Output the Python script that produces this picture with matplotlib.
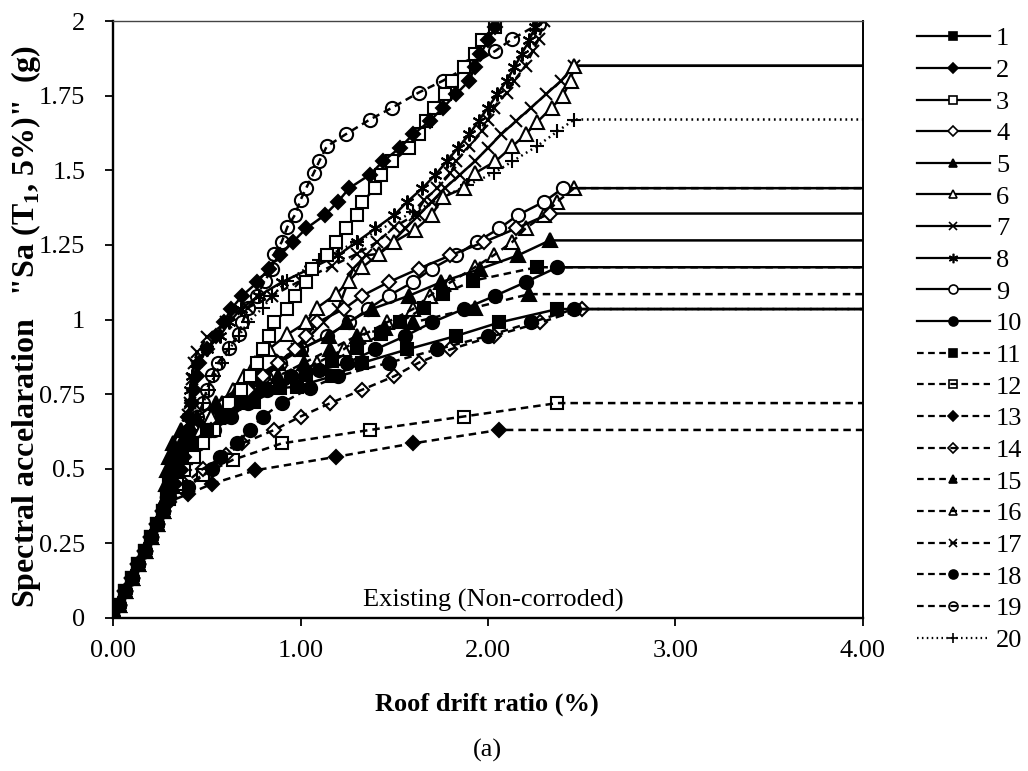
import matplotlib
matplotlib.use("Agg")
import matplotlib.pyplot as plt
from matplotlib.lines import Line2D

plt.rcParams['font.family'] = ['Liberation Serif', 'DejaVu Serif']
plt.rcParams['mathtext.fontset'] = 'custom'
plt.rcParams['mathtext.rm'] = 'Liberation Serif'
plt.rcParams['mathtext.bf'] = 'Liberation Serif:bold'

# ---- data: roof drift ratio (%) and Sa(T1,5%) (g) per record ----
elastic_x = [0.00, 0.03, 0.065, 0.10, 0.135, 0.17, 0.20, 0.235, 0.267]
elastic_y = [0.00, 0.045, 0.09, 0.135, 0.18, 0.225, 0.27, 0.315, 0.36]

r1_x = [0.29, 0.30, 0.32, 0.36, 0.42, 0.50, 0.58, 0.68, 0.80, 0.98, 1.17, 1.33, 1.57, 1.83, 2.06, 2.37, 4.0]
r1_y = [0.405, 0.45, 0.495, 0.54, 0.585, 0.63, 0.675, 0.72, 0.765, 0.775, 0.81, 0.855, 0.90, 0.945, 0.99, 1.035, 1.035]

r2_x = [0.30, 0.33, 0.36, 0.38, 0.39, 0.40, 0.40, 0.42, 0.43, 0.45, 0.46, 0.50, 0.55, 0.59, 0.63, 0.69, 0.77, 0.83, 0.89, 0.96, 1.03, 1.13, 1.20, 1.26, 1.37, 1.44, 1.53, 1.60, 1.69, 1.76, 1.83, 1.90, 1.93, 1.96, 2.00, 2.04, 2.08]
r2_y = [0.405, 0.45, 0.495, 0.54, 0.585, 0.63, 0.675, 0.72, 0.765, 0.81, 0.855, 0.90, 0.945, 0.99, 1.035, 1.08, 1.125, 1.17, 1.215, 1.26, 1.305, 1.35, 1.395, 1.44, 1.485, 1.53, 1.575, 1.62, 1.665, 1.71, 1.755, 1.80, 1.845, 1.89, 1.935, 1.98, 2.025]

r3_x = [0.30, 0.34, 0.38, 0.43, 0.48, 0.54, 0.58, 0.62, 0.68, 0.73, 0.77, 0.80, 0.83, 0.86, 0.93, 0.97, 1.03, 1.06, 1.14, 1.19, 1.24, 1.30, 1.33, 1.40, 1.43, 1.49, 1.58, 1.63, 1.67, 1.71, 1.77, 1.81, 1.87, 1.93, 1.97, 2.04, 2.10]
r3_y = [0.405, 0.45, 0.495, 0.54, 0.585, 0.63, 0.675, 0.72, 0.765, 0.81, 0.855, 0.90, 0.945, 0.99, 1.035, 1.08, 1.125, 1.17, 1.215, 1.26, 1.305, 1.35, 1.395, 1.44, 1.485, 1.53, 1.575, 1.62, 1.665, 1.71, 1.755, 1.80, 1.845, 1.89, 1.935, 1.98, 2.025]

r4_x = [0.30, 0.34, 0.38, 0.42, 0.47, 0.52, 0.58, 0.65, 0.72, 0.80, 0.88, 0.97, 1.03, 1.09, 1.23, 1.33, 1.47, 1.63, 1.80, 1.98, 2.15, 2.33, 4.0]
r4_y = [0.405, 0.45, 0.495, 0.54, 0.585, 0.63, 0.675, 0.72, 0.765, 0.81, 0.855, 0.90, 0.945, 0.99, 1.035, 1.08, 1.125, 1.17, 1.215, 1.26, 1.305, 1.355, 1.355]

r5_x = [0.28, 0.28, 0.29, 0.30, 0.32, 0.36, 0.45, 0.55, 0.66, 0.77, 0.88, 1.00, 1.15, 1.25, 1.38, 1.58, 1.75, 1.96, 2.16, 2.33, 4.0]
r5_y = [0.405, 0.45, 0.495, 0.54, 0.585, 0.63, 0.675, 0.72, 0.765, 0.81, 0.855, 0.90, 0.945, 0.99, 1.035, 1.08, 1.125, 1.17, 1.215, 1.265, 1.265]

r6_x = [0.29, 0.31, 0.34, 0.38, 0.42, 0.47, 0.52, 0.58, 0.64, 0.70, 0.76, 0.83, 0.93, 1.03, 1.09, 1.19, 1.26, 1.33, 1.42, 1.50, 1.61, 1.70, 1.76, 1.87, 1.93, 2.04, 2.13, 2.20, 2.26, 2.34, 2.40, 2.44, 2.46, 4.0]
r6_y = [0.405, 0.45, 0.495, 0.54, 0.585, 0.63, 0.675, 0.72, 0.765, 0.81, 0.855, 0.90, 0.95, 0.99, 1.04, 1.085, 1.13, 1.175, 1.22, 1.26, 1.30, 1.35, 1.41, 1.44, 1.49, 1.53, 1.58, 1.62, 1.66, 1.71, 1.75, 1.80, 1.85, 1.85]

r7_x = [0.29, 0.32, 0.36, 0.40, 0.45, 0.50, 0.56, 0.62, 0.68, 0.74, 0.82, 0.90, 0.98, 1.05, 1.12, 1.20, 1.28, 1.35, 1.42, 1.49, 1.56, 1.63, 1.70, 1.77, 1.85, 1.93, 2.00, 2.07, 2.15, 2.23, 2.31, 2.39, 2.46, 4.0]
r7_y = [0.405, 0.45, 0.495, 0.54, 0.585, 0.63, 0.675, 0.72, 0.765, 0.81, 0.81, 0.865, 0.90, 0.945, 0.99, 1.035, 1.17, 1.215, 1.22, 1.26, 1.305, 1.35, 1.395, 1.44, 1.485, 1.53, 1.575, 1.62, 1.665, 1.71, 1.755, 1.80, 1.85, 1.85]

r8_x = [0.30, 0.33, 0.37, 0.39, 0.40, 0.40, 0.40, 0.41, 0.41, 0.42, 0.44, 0.50, 0.57, 0.62, 0.68, 0.78, 0.90, 1.05, 1.20, 1.30, 1.40, 1.50, 1.57, 1.65, 1.72, 1.78, 1.84, 1.90, 1.95, 2.00, 2.05, 2.10, 2.14, 2.18, 2.22, 2.25, 2.28]
r8_y = [0.405, 0.45, 0.495, 0.54, 0.585, 0.63, 0.675, 0.72, 0.765, 0.81, 0.855, 0.90, 0.945, 0.99, 1.035, 1.08, 1.125, 1.17, 1.215, 1.26, 1.305, 1.35, 1.395, 1.44, 1.485, 1.53, 1.575, 1.62, 1.665, 1.71, 1.755, 1.80, 1.845, 1.89, 1.935, 1.98, 2.025]

r9_x = [0.29, 0.31, 0.34, 0.38, 0.43, 0.49, 0.55, 0.62, 0.70, 0.80, 0.89, 1.00, 1.14, 1.26, 1.36, 1.47, 1.60, 1.70, 1.83, 1.94, 2.06, 2.16, 2.30, 2.40, 4.0]
r9_y = [0.405, 0.45, 0.495, 0.54, 0.585, 0.63, 0.675, 0.72, 0.765, 0.81, 0.855, 0.90, 0.945, 0.99, 1.035, 1.08, 1.125, 1.17, 1.215, 1.26, 1.305, 1.35, 1.395, 1.44, 1.44]

r10_x = [0.29, 0.30, 0.33, 0.38, 0.46, 0.54, 0.63, 0.72, 0.82, 0.95, 1.10, 1.25, 1.40, 1.56, 1.70, 1.87, 2.04, 2.20, 2.37, 4.0]
r10_y = [0.405, 0.45, 0.495, 0.54, 0.585, 0.63, 0.675, 0.72, 0.765, 0.81, 0.83, 0.855, 0.90, 0.945, 0.99, 1.035, 1.08, 1.125, 1.175, 1.175]

r11_x = [0.29, 0.30, 0.32, 0.36, 0.44, 0.52, 0.60, 0.75, 0.89, 1.03, 1.17, 1.30, 1.43, 1.53, 1.66, 1.76, 1.92, 2.26, 4.0]
r11_y = [0.405, 0.45, 0.495, 0.54, 0.585, 0.63, 0.675, 0.725, 0.77, 0.815, 0.86, 0.905, 0.95, 0.99, 1.04, 1.085, 1.13, 1.175, 1.175]

r12_x = [0.30, 0.38, 0.48, 0.64, 0.90, 1.37, 1.87, 2.37, 4.0]
r12_y = [0.40, 0.44, 0.48, 0.53, 0.585, 0.63, 0.675, 0.72, 0.72]

r13_x = [0.30, 0.40, 0.53, 0.76, 1.19, 1.60, 2.06, 4.0]
r13_y = [0.39, 0.415, 0.45, 0.495, 0.54, 0.585, 0.63, 0.63]

r14_x = [0.30, 0.38, 0.48, 0.60, 0.69, 0.86, 1.00, 1.16, 1.33, 1.50, 1.63, 1.80, 2.03, 2.28, 2.50, 4.0]
r14_y = [0.40, 0.45, 0.50, 0.545, 0.585, 0.63, 0.675, 0.72, 0.765, 0.81, 0.855, 0.90, 0.945, 0.99, 1.035, 1.035]

r15_x = [0.28, 0.29, 0.30, 0.32, 0.36, 0.42, 0.52, 0.62, 0.74, 0.88, 1.02, 1.16, 1.30, 1.45, 1.60, 1.93, 2.22, 4.0]
r15_y = [0.405, 0.45, 0.495, 0.54, 0.585, 0.63, 0.675, 0.72, 0.765, 0.81, 0.855, 0.90, 0.945, 0.97, 0.99, 1.04, 1.085, 1.085]

r16_x = [0.29, 0.31, 0.34, 0.38, 0.43, 0.49, 0.56, 0.64, 0.73, 0.83, 0.95, 1.09, 1.23, 1.34, 1.46, 1.60, 1.69, 1.80, 1.93, 2.03, 2.13, 2.20, 2.30, 2.37, 2.46, 4.0]
r16_y = [0.405, 0.45, 0.495, 0.54, 0.585, 0.63, 0.675, 0.72, 0.765, 0.81, 0.81, 0.855, 0.90, 0.95, 0.99, 1.035, 1.08, 1.125, 1.175, 1.215, 1.26, 1.305, 1.35, 1.395, 1.44, 1.44]

r17_x = [0.30, 0.35, 0.38, 0.40, 0.41, 0.42, 0.43, 0.45, 0.50, 0.60, 0.72, 0.85, 1.00, 1.17, 1.30, 1.41, 1.50, 1.61, 1.66, 1.73, 1.80, 1.83, 1.90, 1.97, 2.00, 2.03, 2.10, 2.14, 2.20, 2.24, 2.27, 2.30, 2.32]
r17_y = [0.405, 0.50, 0.60, 0.68, 0.72, 0.80, 0.855, 0.89, 0.94, 0.99, 1.04, 1.08, 1.13, 1.18, 1.22, 1.26, 1.31, 1.35, 1.40, 1.44, 1.49, 1.53, 1.58, 1.63, 1.67, 1.71, 1.76, 1.80, 1.85, 1.90, 1.94, 2.00, 2.05]

r18_x = [0.30, 0.40, 0.53, 0.57, 0.66, 0.73, 0.80, 0.90, 1.05, 1.20, 1.47, 1.73, 2.00, 2.23, 2.46, 4.0]
r18_y = [0.405, 0.44, 0.50, 0.54, 0.585, 0.63, 0.675, 0.72, 0.77, 0.81, 0.855, 0.90, 0.945, 0.99, 1.035, 1.035]

r19_x = [0.29, 0.32, 0.35, 0.38, 0.40, 0.42, 0.45, 0.48, 0.50, 0.53, 0.56, 0.62, 0.67, 0.69, 0.72, 0.77, 0.81, 0.85, 0.86, 0.90, 0.93, 0.97, 1.00, 1.03, 1.07, 1.10, 1.14, 1.24, 1.37, 1.49, 1.63, 1.76, 1.90, 2.04, 2.13, 2.27, 2.35]
r19_y = [0.405, 0.45, 0.495, 0.54, 0.585, 0.63, 0.675, 0.72, 0.765, 0.815, 0.855, 0.905, 0.95, 0.99, 1.04, 1.08, 1.13, 1.17, 1.22, 1.26, 1.31, 1.35, 1.40, 1.44, 1.49, 1.53, 1.58, 1.62, 1.67, 1.71, 1.76, 1.80, 1.85, 1.90, 1.94, 1.99, 2.03]

r20_x = [0.29, 0.32, 0.35, 0.38, 0.40, 0.42, 0.45, 0.48, 0.51, 0.54, 0.58, 0.62, 0.67, 0.72, 0.80, 0.85, 0.93, 1.10, 1.30, 1.60, 1.89, 2.03, 2.13, 2.26, 2.37, 2.46, 4.0]
r20_y = [0.405, 0.45, 0.495, 0.54, 0.585, 0.63, 0.675, 0.72, 0.765, 0.81, 0.855, 0.90, 0.945, 0.99, 1.04, 1.08, 1.13, 1.20, 1.26, 1.36, 1.45, 1.49, 1.53, 1.58, 1.63, 1.67, 1.67]

# collapse flag: True -> last point is the flat-line end at 4%, no marker there
collapsed = [True, False, False, True, True, True, True, False, True, True,
             True, True, True, True, True, True, False, True, False, True]

record_labels = [str(i) for i in range(1, 21)]
x_ticks = [0.0, 1.0, 2.0, 3.0, 4.0]
y_ticks = [0, 0.25, 0.5, 0.75, 1, 1.25, 1.5, 1.75, 2]
y_tick_labels = ['0', '0.25', '0.5', '0.75', '1', '1.25', '1.5', '1.75', '2']

all_x = [r1_x, r2_x, r3_x, r4_x, r5_x, r6_x, r7_x, r8_x, r9_x, r10_x,
         r11_x, r12_x, r13_x, r14_x, r15_x, r16_x, r17_x, r18_x, r19_x, r20_x]
all_y = [r1_y, r2_y, r3_y, r4_y, r5_y, r6_y, r7_y, r8_y, r9_y, r10_y,
         r11_y, r12_y, r13_y, r14_y, r15_y, r16_y, r17_y, r18_y, r19_y, r20_y]

# ---- styles ----
solid = '-'
dash = (0, (3, 2))
dot = (0, (0.7, 1.5))
asterisk = (6, 2, 0)
styles = [
    dict(ls=solid, marker='s', mfc='black', ms=8.5),
    dict(ls=solid, marker='D', mfc='black', ms=7),
    dict(ls=solid, marker='s', mfc='white', ms=9),
    dict(ls=solid, marker='D', mfc='white', ms=7),
    dict(ls=solid, marker='^', mfc='black', ms=9.5),
    dict(ls=solid, marker='^', mfc='white', ms=9.5),
    dict(ls=solid, marker='x', mfc='black', ms=9),
    dict(ls=solid, marker=asterisk, mfc='black', ms=10),
    dict(ls=solid, marker='o', mfc='white', ms=9.5),
    dict(ls=solid, marker='o', mfc='black', ms=9.5),
    dict(ls=dash, marker='s', mfc='black', ms=8.5),
    dict(ls=dash, marker='s', mfc='none', ms=9),
    dict(ls=dash, marker='D', mfc='black', ms=7),
    dict(ls=dash, marker='D', mfc='none', ms=7),
    dict(ls=dash, marker='^', mfc='black', ms=9.5),
    dict(ls=dash, marker='^', mfc='none', ms=9.5),
    dict(ls=dash, marker='x', mfc='black', ms=9),
    dict(ls=dash, marker='o', mfc='black', ms=9.5),
    dict(ls=dash, marker='o', mfc='none', ms=9.5),
    dict(ls=dot, marker='+', mfc='black', ms=10),
]

fig = plt.figure(figsize=(10.28, 7.71), dpi=100)
ax = fig.add_axes([113 / 1028, 1 - 618 / 771, 750 / 1028, 597 / 771])

handles = []
for i in range(20):
    xs = elastic_x + all_x[i]
    ys = elastic_y + all_y[i]
    st = styles[i]
    n = len(xs)
    me = list(range(n - 1)) if collapsed[i] else list(range(n))
    ax.plot(xs, ys, color='black', lw=1.8, ls=st['ls'], marker=st['marker'],
            mfc=st['mfc'], mec='black', mew=1.5, ms=st['ms'], markevery=me,
            zorder=2 + (20 - i) * 0.01, clip_on=True)
    handles.append(Line2D([], [], color='black', lw=1.6, ls=st['ls'],
                          marker=st['marker'], mfc=st['mfc'], mec='black',
                          mew=1.2, ms=st['ms'] * 0.68))

ax.set_xlim(0, 4)
ax.set_ylim(0, 2)
ax.set_xticks(x_ticks)
ax.set_xticklabels(['%.2f' % v for v in x_ticks])
ax.set_yticks(y_ticks)
ax.set_yticklabels(y_tick_labels)
ax.tick_params(axis='both', direction='out', length=6, width=1.3,
               labelsize=19, colors='black')
ax.tick_params(axis='y', pad=14)
ax.tick_params(axis='x', pad=10)
for s in ['left', 'bottom']:
    ax.spines[s].set_linewidth(1.7)
ax.spines['right'].set_linewidth(1.4)
ax.spines['top'].set_linewidth(1.0)
ax.spines['top'].set_color('#444444')

ax.text(0.507, 0.030, 'Existing (Non-corroded)', transform=ax.transAxes,
        ha='center', va='center', fontsize=19)

fig.text(487 / 1028, 1 - 704 / 771, 'Roof drift ratio (%)', ha='center',
         va='center', fontsize=19, fontweight='bold')
fig.text(487 / 1028, 1 - 750 / 771, '(a)', ha='center', va='center',
         fontsize=19)
fig.text(26 / 1028, 1 - 326 / 771,
         'Spectral accelaration   "Sa (T$_{\\mathbf{1}}$, 5%)"  (g)',
         rotation=90, ha='center', va='center', fontsize=23,
         fontweight='bold')

fig.legend(handles, record_labels, loc='upper left',
           bbox_to_anchor=(917 / 1028, 1 - 27 / 771), frameon=False,
           fontsize=19, handlelength=2.75, handletextpad=0.25,
           labelspacing=0.31, borderpad=0, borderaxespad=0)

fig.savefig('out.png', dpi=100)
